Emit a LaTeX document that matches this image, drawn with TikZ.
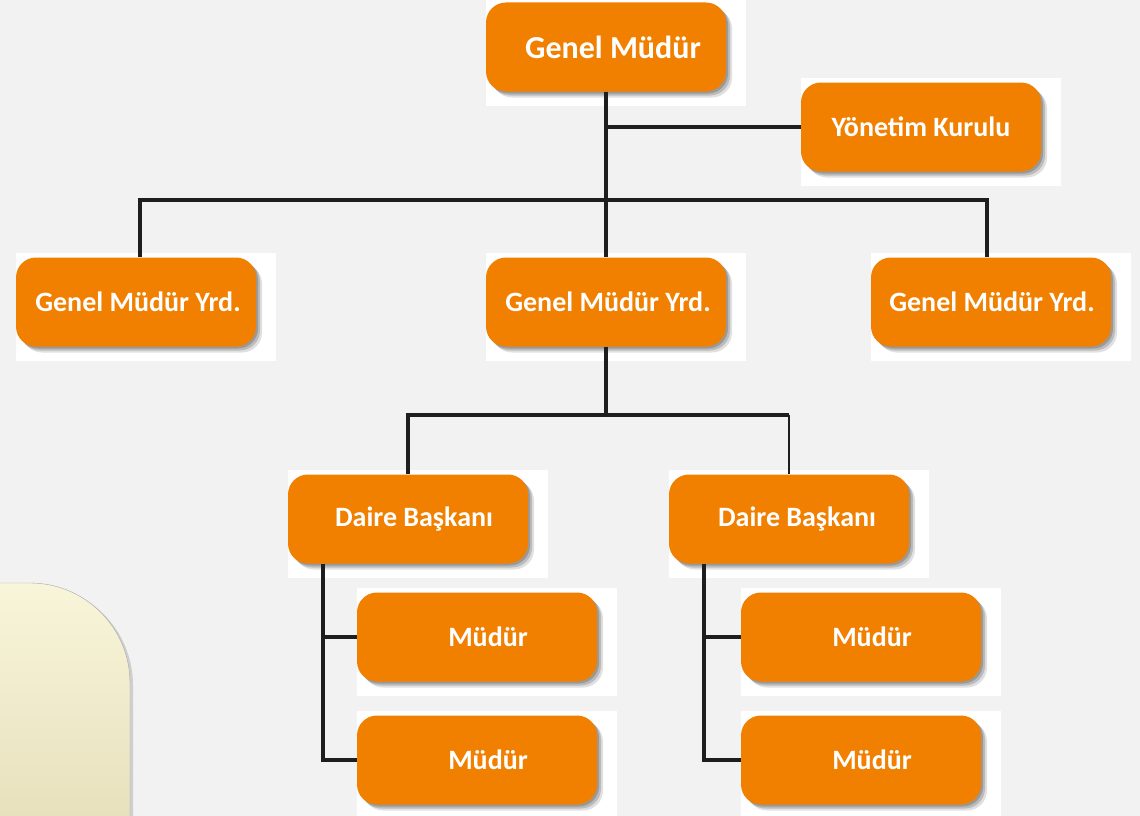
\documentclass[tikz,border=0pt]{standalone}
\usepackage{fontspec}
\setmainfont{Carlito}
\usepackage{tikz}
\usetikzlibrary{shadows,backgrounds}

\definecolor{turuncu}{RGB}{241,128,0}
\definecolor{zemin}{RGB}{242,242,242}
\definecolor{cizgi}{RGB}{30,30,30}
\definecolor{krem1}{RGB}{248,245,218}
\definecolor{krem2}{RGB}{224,216,176}

\pgfdeclarelayer{yama}
\pgfsetlayers{background,yama,main}

\tikzset{
  golge/.style={
    drop shadow={shadow xshift=2pt, shadow yshift=-2pt, fill=black, opacity=0.18},
    drop shadow={shadow xshift=4pt, shadow yshift=-4pt, fill=black, opacity=0.16},
    drop shadow={shadow xshift=6pt, shadow yshift=-6pt, fill=black, opacity=0.12}},
  kutu/.style={fill=turuncu, rounded corners=20pt, minimum width=240pt,
    minimum height=89pt, inner sep=0pt, text=white,
    font=\fontsize{28}{33}\selectfont\bfseries, golge},
  baglanti/.style={draw=cizgi, line width=4pt},
  ince/.style={draw=cizgi, line width=2pt}
}

\begin{document}
\begin{tikzpicture}[x=1pt,y=-1pt]
    \path[use as bounding box] (0,0) rectangle (1140,816);
    \begin{pgfonlayer}{background}
        \fill[zemin] (0,0) rectangle (1140,816);
    \end{pgfonlayer}

    % Side panel
    \shade[top color=krem1, bottom color=krem2, draw=gray!70, rounded corners=100pt,
        drop shadow={shadow xshift=3pt, shadow yshift=-2pt, opacity=0.3}]
        (-100,583) rectangle (130,920);

    % Boxes
    \node[kutu, font=\fontsize{32}{37}\selectfont\bfseries] (gm) at (606,47) {\kern14pt Genel Müdür};
    \node[kutu] (yk) at (921,127) {Yönetim Kurulu};
    \node[kutu] (gmy1) at (136,302) {\kern4pt Genel Müdür Yrd.};
    \node[kutu] (gmy2) at (606,302) {\kern4pt Genel Müdür Yrd.};
    \node[kutu] (gmy3) at (991,302) {\kern2pt Genel Müdür Yrd.};
    \node[kutu] (db1) at (408,519) {\kern12pt Daire Başkanı};
    \node[kutu] (db2) at (789,519) {\kern16pt Daire Başkanı};
    \node[kutu] (md1) at (477,637) {\kern22pt Müdür};
    \node[kutu] (md2) at (477,760) {\kern22pt Müdür};
    \node[kutu] (md3) at (861,637) {\kern22pt Müdür};
    \node[kutu] (md4) at (861,760) {\kern22pt Müdür};

    % White patches behind the boxes
    \begin{pgfonlayer}{yama}
        \foreach \k in {gm,yk,gmy1,gmy2,gmy3,db1,db2,md1,md2,md3,md4}
            \fill[white] ([yshift=4pt]\k.north west) rectangle ([xshift=20pt,yshift=-14pt]\k.south east);
    \end{pgfonlayer}

    % Connectors
    \coordinate (bar1) at (gm.south |- 0,200);
    \coordinate (bar2) at (gmy2.south |- 0,415);
    \coordinate (kol1) at ([xshift=35pt]db1.south west);
    \coordinate (kol2) at ([xshift=35pt]db2.south west);

    \draw[baglanti] (gm.south) -- (gmy2.north);
    \draw[baglanti] (gm.south |- yk.west) -- (yk.west);
    \draw[baglanti] ([xshift=4pt]gmy1.north) |- (bar1) -| ([xshift=-4pt]gmy3.north);

    \draw[baglanti] (gmy2.south) -- (bar2);
    \draw[baglanti] (db1.north) |- (bar2) -- (db2.north |- bar2);
    \draw[ince] (db2.north |- bar2) -- (db2.north);

    \draw[baglanti] (kol1) |- (md2.west);
    \draw[baglanti] (kol1 |- md1.west) -- (md1.west);
    \draw[baglanti] (kol2) |- (md4.west);
    \draw[baglanti] (kol2 |- md3.west) -- (md3.west);
\end{tikzpicture}
\end{document}
